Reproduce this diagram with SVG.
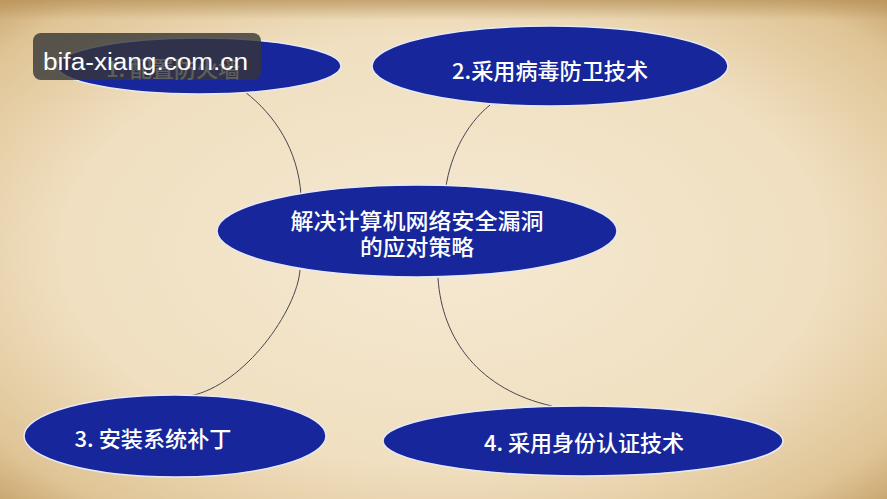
<svg xmlns="http://www.w3.org/2000/svg" width="887" height="499" viewBox="0 0 887 499">
<defs>
<radialGradient id="paper" cx="50%" cy="50%" r="72%">
<stop offset="0" stop-color="#f5e9d2"/>
<stop offset="0.6" stop-color="#f0dfc0"/>
<stop offset="0.88" stop-color="#dfc495"/>
<stop offset="1" stop-color="#c7a36b"/>
</radialGradient>
<linearGradient id="topband" x1="0" y1="0" x2="0" y2="1">
<stop offset="0" stop-color="#b58f55" stop-opacity="0.7"/>
<stop offset="1" stop-color="#b58f55" stop-opacity="0"/>
</linearGradient>
<style>
.node ellipse{fill:#17279b;stroke:#e6e9f6;stroke-width:1.5}
.node text{fill:#ffffff;font-family:"Noto Sans CJK SC","Noto Sans",sans-serif;font-weight:500;text-anchor:middle}
.conn path{fill:none;stroke:#4a4450;stroke-width:1}
</style>
</defs>
<rect x="0" y="0" width="887" height="499" fill="url(#paper)"/>
<rect x="0" y="0" width="887" height="20" fill="url(#topband)"/>
<g class="conn" id="connectors">
<path d="M245,92 C275,115 298,150 301,195"/>
<path d="M300,270 C297,310 245,385 190,396"/>
<path d="M490,105 C465,125 448,160 445,195"/>
<path d="M438,278 C442,340 480,390 552,406"/>
</g>
<g class="node" id="node-center">
<ellipse cx="417" cy="231" rx="200" ry="46"/>
<text x="417" y="229" font-size="22" textLength="253" lengthAdjust="spacingAndGlyphs">解决计算机网络安全漏洞</text>
<text x="417" y="255" font-size="22" textLength="114" lengthAdjust="spacingAndGlyphs">的应对策略</text>
</g>
<g class="node" id="node-1">
<ellipse cx="199" cy="66" rx="142" ry="28"/>
<text x="173" y="77" font-size="22">1. 配置防火墙</text>
</g>
<g class="node" id="node-2">
<ellipse cx="550" cy="66" rx="178" ry="40"/>
<text x="550" y="79" font-size="22" textLength="196" lengthAdjust="spacingAndGlyphs">2.采用病毒防卫技术</text>
</g>
<g class="node" id="node-3">
<ellipse cx="175" cy="436" rx="151" ry="41"/>
<text x="153" y="447" font-size="22" textLength="157" lengthAdjust="spacingAndGlyphs">3. 安装系统补丁</text>
</g>
<g class="node" id="node-4">
<ellipse cx="583" cy="441" rx="200" ry="35"/>
<text x="584" y="451" font-size="22" textLength="200" lengthAdjust="spacingAndGlyphs">4. 采用身份认证技术</text>
</g>
<g id="watermark">
<rect x="33" y="33" width="228" height="47" rx="8" fill="#363636" fill-opacity="0.8"/>
<text x="43" y="70" font-size="23" fill="#ffffff" font-family="Liberation Sans, Arial, sans-serif" textLength="205" lengthAdjust="spacingAndGlyphs">bifa-xiang.com.cn</text>
</g>
</svg>
